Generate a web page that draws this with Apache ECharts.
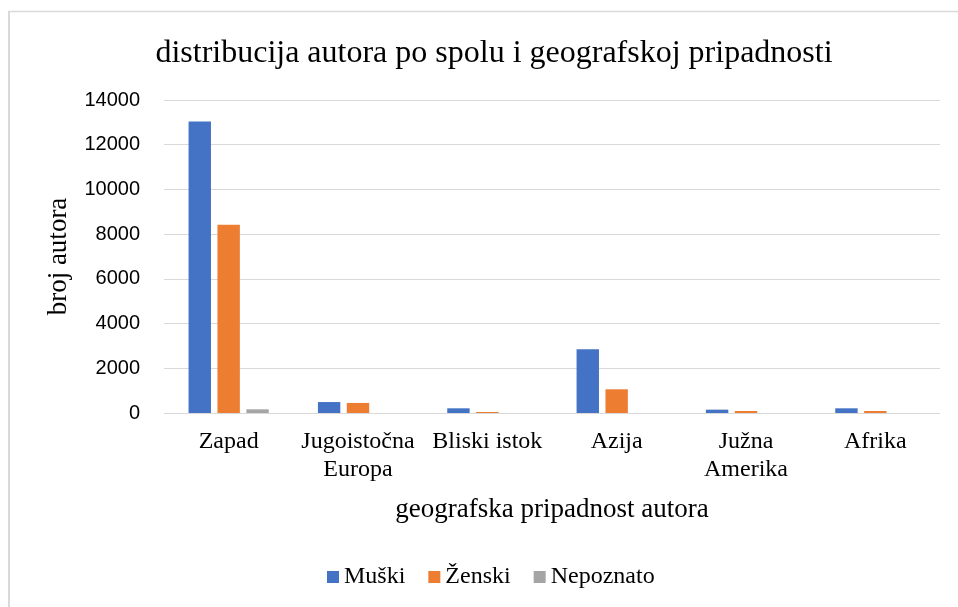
<!DOCTYPE html>
<html>
<head>
<meta charset="utf-8">
<script src="https://cdn.jsdelivr.net/npm/echarts@6/dist/echarts.min.js"></script>
<style>
  html, body { margin: 0; padding: 0; background: #fff; }
  #chart { width: 958px; height: 607px; }
</style>
</head>
<body>
<div id="chart"></div>
<script>
var categories = ['Zapad', 'Jugoistočna\nEuropa', 'Bliski istok', 'Azija', 'Južna\nAmerika', 'Afrika'];
var muski = [13040, 490, 210, 2850, 150, 210];
var zenski = [8420, 450, 45, 1060, 90, 90];
var nepoznato = [165, 0, 0, 0, 0, 0];

var chart = echarts.init(document.getElementById('chart'));
var serif = '"Liberation Serif", "DejaVu Serif", serif';

chart.setOption({
    backgroundColor: '#fff',
    animation: false,
    graphic: [
        { type: 'line', shape: { x1: 8, y1: 11.5, x2: 958, y2: 11.5 }, style: { stroke: '#d9d9d9', lineWidth: 1.3 } },
        { type: 'line', shape: { x1: 9, y1: 11, x2: 9, y2: 607 }, style: { stroke: '#d9d9d9', lineWidth: 2 } }
    ],
    title: {
        text: 'distribucija autora po spolu i geografskoj pripadnosti',
        left: 489,
        textAlign: 'center',
        top: 33,
        textStyle: { fontFamily: serif, fontSize: 32, fontWeight: 'normal', color: '#000' }
    },
    legend: {
        top: 560,
        left: 322,
        itemWidth: 12,
        itemHeight: 12,
        itemGap: 23,
        icon: 'rect',
        textStyle: { fontFamily: serif, fontSize: 24, color: '#000' },
        data: ['Muški', 'Ženski', 'Nepoznato']
    },
    grid: { left: 164, right: 18, top: 100, bottom: 194 },
    xAxis: {
        type: 'category',
        data: categories,
        name: 'geografska pripadnost autora',
        nameLocation: 'middle',
        nameGap: 83,
        nameTextStyle: { fontFamily: serif, fontSize: 27, color: '#000' },
        axisLine: { lineStyle: { color: '#d9d9d9', width: 1 } },
        axisTick: { show: false },
        axisLabel: { fontFamily: serif, fontSize: 24, color: '#000', margin: 15, lineHeight: 28, interval: 0 }
    },
    yAxis: {
        type: 'value',
        min: 0,
        max: 14000,
        interval: 2000,
        name: 'broj autora',
        nameLocation: 'middle',
        nameGap: 92,
        nameTextStyle: { fontFamily: serif, fontSize: 27, color: '#000' },
        axisLine: { show: false },
        axisTick: { show: false },
        splitLine: { lineStyle: { color: '#d9d9d9', width: 1 } },
        axisLabel: {
            fontFamily: '"Liberation Sans", Arial, sans-serif', fontSize: 20, color: '#000', margin: 24,
            formatter: function (v) { return String(v); }
        }
    },
    series: [
        { name: 'Muški', type: 'bar', data: muski, barGap: '29%', barCategoryGap: '38%', itemStyle: { color: '#4472c4' } },
        { name: 'Ženski', type: 'bar', data: zenski, itemStyle: { color: '#ed7d31' } },
        { name: 'Nepoznato', type: 'bar', data: nepoznato, itemStyle: { color: '#a5a5a5' } }
    ]
});
</script>
</body>
</html>
